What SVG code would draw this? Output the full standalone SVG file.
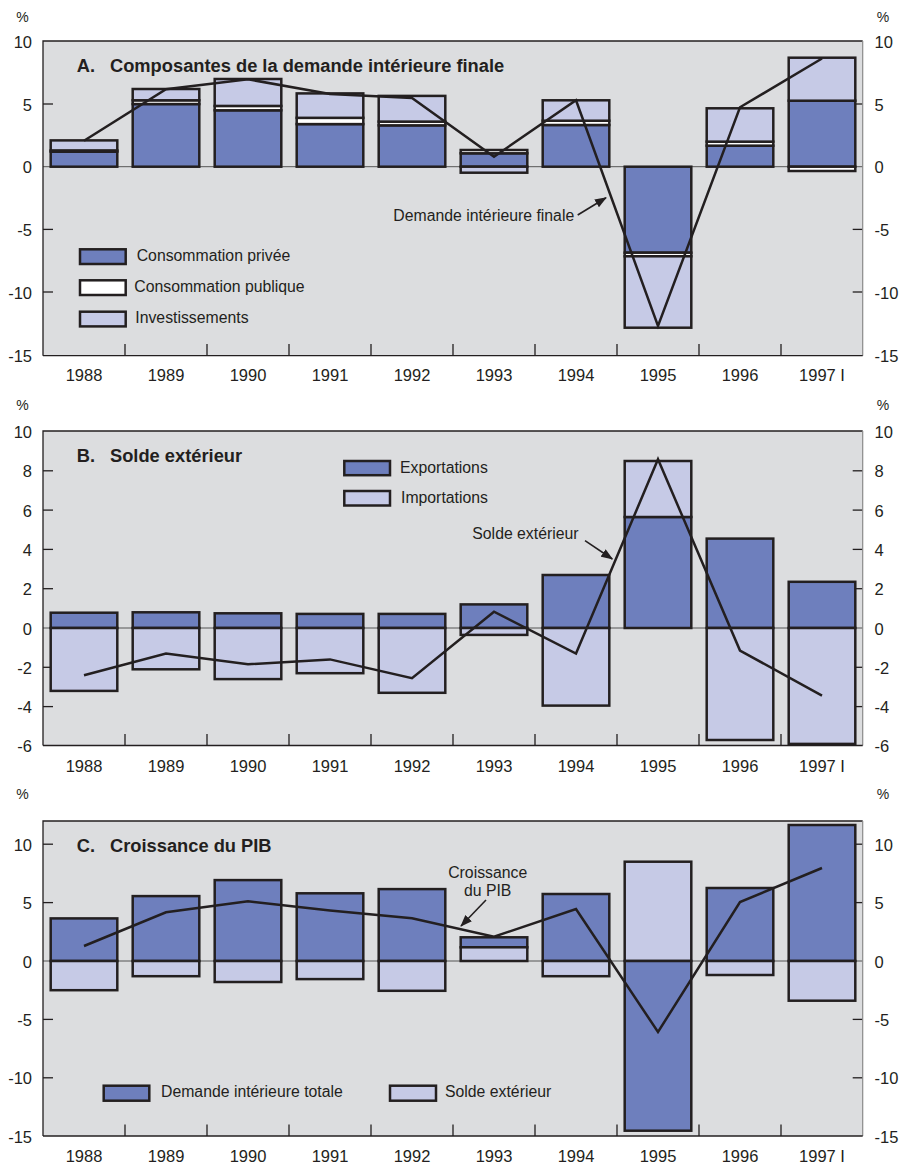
<svg xmlns="http://www.w3.org/2000/svg" width="901" height="1165" viewBox="0 0 901 1165">
<style>
text{font-family:"Liberation Sans",Arial,sans-serif;fill:#231f20}
.ax{font-size:16.5px}
.pc{font-size:14px}
.yr{font-size:16.5px;text-anchor:middle}
.tt{font-size:18.3px;font-weight:bold}
.lg{font-size:15.8px}
.bg{fill:#dcdddf;stroke:none}
.fr{fill:none;stroke:#231f20;stroke-width:1.3}
.z{stroke:#555;stroke-width:1}
.tk{stroke:#231f20;stroke-width:1.3}
.b rect{stroke:#231f20;stroke-width:2.5}
.d{fill:#6e7fbd}
.l{fill:#c6cae6}
.w{fill:#ffffff}
.ln{fill:none;stroke:#231f20;stroke-width:2.5;stroke-linejoin:miter}
.ar{stroke:#231f20;stroke-width:1.6;fill:none}
</style>
<defs>
<marker id="ah" markerUnits="userSpaceOnUse" markerWidth="12" markerHeight="9" refX="11" refY="4.5" orient="auto">
<path d="M0,0 L12,4.5 L0,9 z" fill="#231f20"/>
</marker>
</defs>

<!-- ================= PANEL A ================= -->
<g id="panelA">
<rect class="bg" x="43" y="41" width="819.7" height="314.7"/>
<line class="z" x1="43" y1="166.7" x2="862.7" y2="166.7"/>
<g class="tk">
<line x1="43" y1="104" x2="53" y2="104"/><line x1="43" y1="229.4" x2="53" y2="229.4"/><line x1="43" y1="292" x2="53" y2="292"/>
<line x1="852.7" y1="104" x2="862.7" y2="104"/><line x1="852.7" y1="229.4" x2="862.7" y2="229.4"/><line x1="852.7" y1="292" x2="862.7" y2="292"/>
<line x1="125" y1="344" x2="125" y2="355.7"/><line x1="207" y1="344" x2="207" y2="355.7"/><line x1="289" y1="344" x2="289" y2="355.7"/><line x1="371" y1="344" x2="371" y2="355.7"/><line x1="453" y1="344" x2="453" y2="355.7"/><line x1="535" y1="344" x2="535" y2="355.7"/><line x1="617" y1="344" x2="617" y2="355.7"/><line x1="699" y1="344" x2="699" y2="355.7"/><line x1="781" y1="344" x2="781" y2="355.7"/>
</g>
<g id="barsA" class="b">
<rect class="d" x="50.7" y="151.66" width="66.6" height="15.04"/><rect class="w" x="50.7" y="150.41" width="66.6" height="1.25"/><rect class="l" x="50.7" y="140.39" width="66.6" height="10.02"/>
<rect class="d" x="132.7" y="104.05" width="66.6" height="62.65"/><rect class="w" x="132.7" y="100.29" width="66.6" height="3.76"/><rect class="l" x="132.7" y="89.01" width="66.6" height="11.28"/>
<rect class="d" x="214.7" y="110.3" width="66.6" height="56.4"/><rect class="w" x="214.7" y="105.93" width="66.6" height="4.37"/><rect class="l" x="214.7" y="79" width="66.6" height="26.93"/>
<rect class="d" x="296.7" y="124.1" width="66.6" height="42.6"/><rect class="w" x="296.7" y="117.83" width="66.6" height="6.27"/><rect class="l" x="296.7" y="93.4" width="66.6" height="24.43"/>
<rect class="d" x="378.7" y="125.35" width="66.6" height="41.35"/><rect class="w" x="378.7" y="121.6" width="66.6" height="3.75"/><rect class="l" x="378.7" y="95.9" width="66.6" height="25.7"/>
<rect class="d" x="460.7" y="153.3" width="66.6" height="13.4"/><rect class="w" x="460.7" y="150" width="66.6" height="3.3"/><rect class="l" x="460.7" y="166.7" width="66.6" height="6"/>
<rect class="d" x="542.7" y="125" width="66.6" height="41.7"/><rect class="w" x="542.7" y="120.7" width="66.6" height="4.3"/><rect class="l" x="542.7" y="100.3" width="66.6" height="20.4"/>
<rect class="d" x="624.7" y="166.7" width="66.6" height="86"/><rect class="w" x="624.7" y="252.7" width="66.6" height="3.6"/><rect class="l" x="624.7" y="256.3" width="66.6" height="71.4"/>
<rect class="d" x="706.7" y="145.65" width="66.6" height="21.05"/><rect class="w" x="706.7" y="141.64" width="66.6" height="4.01"/><rect class="l" x="706.7" y="108.3" width="66.6" height="33.34"/>
<rect class="d" x="788.7" y="100.7" width="66.6" height="66"/><rect class="l" x="788.7" y="57.7" width="66.6" height="43"/><rect class="w" x="788.7" y="166.7" width="66.6" height="4.3"/>
</g>
<polyline id="lineA" class="ln" points="84,140.7 166,89.3 248,79.3 330,94 412,98 494,156.7 576,100.3 658,326 740,107.3 822,58.5"/>
<path class="fr" d="M43,355.7 V41 H862.7"/>
<line x1="862.7" y1="41" x2="862.7" y2="355.7" stroke="#8a8a8a" stroke-width="1.2"/>
<line x1="43" y1="355.7" x2="862.7" y2="355.7" stroke="#231f20" stroke-width="1.3"/>
<text class="tt" x="76.7" y="71.7">A.</text>
<text class="tt" x="110" y="71.7">Composantes de la demande intérieure finale</text>
<g id="legendA" class="b">
<rect class="d" x="80" y="249.3" width="45.7" height="14.7"/>
<rect class="w" x="80" y="280.3" width="45.7" height="14.7"/>
<rect class="l" x="80" y="311.7" width="45.7" height="14.7"/>
</g>
<text class="lg" x="136.7" y="261">Consommation privée</text>
<text class="lg" x="134.3" y="291.7">Consommation publique</text>
<text class="lg" x="135.3" y="322.7">Investissements</text>
<text class="lg" x="393.3" y="220.7">Demande intérieure finale</text>
<text class="pc" x="22.5" y="21.7" text-anchor="middle">%</text>
<text class="pc" x="883" y="21.7" text-anchor="middle">%</text>
<g class="ax" text-anchor="end">
<text x="32" y="47.7">10</text><text x="32" y="110.5">5</text><text x="32" y="173.2">0</text><text x="32" y="235.9">-5</text><text x="32" y="298.5">-10</text><text x="32" y="361.5">-15</text>
</g>
<g class="ax">
<text x="874.5" y="47.7">10</text><text x="874.5" y="110.5">5</text><text x="874.5" y="173.2">0</text><text x="874.5" y="235.9">-5</text><text x="874.5" y="298.5">-10</text><text x="874.5" y="361.5">-15</text>
</g>
<g class="yr">
<text x="84" y="381">1988</text><text x="166" y="381">1989</text><text x="248" y="381">1990</text><text x="330" y="381">1991</text><text x="412" y="381">1992</text><text x="494" y="381">1993</text><text x="576" y="381">1994</text><text x="658" y="381">1995</text><text x="740" y="381">1996</text><text x="822" y="381">1997 I</text>
</g>
</g>

<!-- ================= PANEL B ================= -->
<g id="panelB">
<rect class="bg" x="43" y="431" width="819.7" height="314.5"/>
<line class="z" x1="43" y1="628" x2="862.7" y2="628"/>
<g class="tk">
<line x1="43" y1="470.8" x2="53" y2="470.8"/><line x1="43" y1="510.1" x2="53" y2="510.1"/><line x1="43" y1="549.4" x2="53" y2="549.4"/><line x1="43" y1="588.7" x2="53" y2="588.7"/><line x1="43" y1="667.3" x2="53" y2="667.3"/><line x1="43" y1="706.6" x2="53" y2="706.6"/>
<line x1="852.7" y1="470.8" x2="862.7" y2="470.8"/><line x1="852.7" y1="510.1" x2="862.7" y2="510.1"/><line x1="852.7" y1="549.4" x2="862.7" y2="549.4"/><line x1="852.7" y1="588.7" x2="862.7" y2="588.7"/><line x1="852.7" y1="667.3" x2="862.7" y2="667.3"/><line x1="852.7" y1="706.6" x2="862.7" y2="706.6"/>
<line x1="125" y1="734" x2="125" y2="745.5"/><line x1="207" y1="734" x2="207" y2="745.5"/><line x1="289" y1="734" x2="289" y2="745.5"/><line x1="371" y1="734" x2="371" y2="745.5"/><line x1="453" y1="734" x2="453" y2="745.5"/><line x1="535" y1="734" x2="535" y2="745.5"/><line x1="617" y1="734" x2="617" y2="745.5"/><line x1="699" y1="734" x2="699" y2="745.5"/><line x1="781" y1="734" x2="781" y2="745.5"/>
</g>
<g id="barsB" class="b">
<rect class="d" x="50.7" y="612.7" width="66.6" height="15.3"/><rect class="l" x="50.7" y="628" width="66.6" height="62.9"/>
<rect class="d" x="132.7" y="612.3" width="66.6" height="15.7"/><rect class="l" x="132.7" y="628" width="66.6" height="41.3"/>
<rect class="d" x="214.7" y="613.3" width="66.6" height="14.7"/><rect class="l" x="214.7" y="628" width="66.6" height="51.1"/>
<rect class="d" x="296.7" y="613.9" width="66.6" height="14.1"/><rect class="l" x="296.7" y="628" width="66.6" height="45.2"/>
<rect class="d" x="378.7" y="613.9" width="66.6" height="14.1"/><rect class="l" x="378.7" y="628" width="66.6" height="64.8"/>
<rect class="d" x="460.7" y="604.4" width="66.6" height="23.6"/><rect class="l" x="460.7" y="628" width="66.6" height="6.9"/>
<rect class="d" x="542.7" y="575" width="66.6" height="53"/><rect class="l" x="542.7" y="628" width="66.6" height="77.6"/>
<rect class="d" x="624.7" y="517" width="66.6" height="111"/><rect class="l" x="624.7" y="461" width="66.6" height="56"/>
<rect class="d" x="706.7" y="538.6" width="66.6" height="89.4"/><rect class="l" x="706.7" y="628" width="66.6" height="112"/>
<rect class="d" x="788.7" y="581.8" width="66.6" height="46.2"/><rect class="l" x="788.7" y="628" width="66.6" height="115.9"/>
</g>
<polyline id="lineB" class="ln" points="84,675.2 166,653.5 248,664.3 330,659.4 412,678.1 494,611.7 576,653.5 658,459.3 740,650.5 822,695.7"/>
<path class="fr" d="M43,745.5 V431 H862.7"/>
<line x1="862.7" y1="431" x2="862.7" y2="745.5" stroke="#8a8a8a" stroke-width="1.2"/>
<line x1="43" y1="745.5" x2="862.7" y2="745.5" stroke="#231f20" stroke-width="1.3"/>
<text class="tt" x="76.7" y="462.3">B.</text>
<text class="tt" x="110" y="462.3">Solde extérieur</text>
<g id="legendB" class="b">
<rect class="d" x="344.3" y="461" width="45.7" height="14.2"/>
<rect class="l" x="344.3" y="491" width="45.7" height="14.5"/>
</g>
<text class="lg" x="400" y="472.7">Exportations</text>
<text class="lg" x="401" y="503.3">Importations</text>
<text class="lg" x="472.3" y="539">Solde extérieur</text>
<text class="pc" x="22.5" y="410" text-anchor="middle">%</text>
<text class="pc" x="883" y="410" text-anchor="middle">%</text>
<g class="ax" text-anchor="end">
<text x="32" y="437.5">10</text><text x="32" y="477.3">8</text><text x="32" y="516.6">6</text><text x="32" y="555.9">4</text><text x="32" y="595.2">2</text><text x="32" y="634.5">0</text><text x="32" y="673.8">-2</text><text x="32" y="713.1">-4</text><text x="32" y="752">-6</text>
</g>
<g class="ax">
<text x="874.5" y="437.5">10</text><text x="874.5" y="477.3">8</text><text x="874.5" y="516.6">6</text><text x="874.5" y="555.9">4</text><text x="874.5" y="595.2">2</text><text x="874.5" y="634.5">0</text><text x="874.5" y="673.8">-2</text><text x="874.5" y="713.1">-4</text><text x="874.5" y="752">-6</text>
</g>
<g class="yr">
<text x="84" y="772">1988</text><text x="166" y="772">1989</text><text x="248" y="772">1990</text><text x="330" y="772">1991</text><text x="412" y="772">1992</text><text x="494" y="772">1993</text><text x="576" y="772">1994</text><text x="658" y="772">1995</text><text x="740" y="772">1996</text><text x="822" y="772">1997 I</text>
</g>
</g>

<!-- ================= PANEL C ================= -->
<g id="panelC">
<rect class="bg" x="43" y="821" width="819.7" height="315"/>
<line class="z" x1="43" y1="961" x2="862.7" y2="961"/>
<g class="tk">
<line x1="43" y1="844.2" x2="53" y2="844.2"/><line x1="43" y1="902.6" x2="53" y2="902.6"/><line x1="43" y1="1019.4" x2="53" y2="1019.4"/><line x1="43" y1="1077.8" x2="53" y2="1077.8"/>
<line x1="852.7" y1="844.2" x2="862.7" y2="844.2"/><line x1="852.7" y1="902.6" x2="862.7" y2="902.6"/><line x1="852.7" y1="1019.4" x2="862.7" y2="1019.4"/><line x1="852.7" y1="1077.8" x2="862.7" y2="1077.8"/>
<line x1="125" y1="1124.5" x2="125" y2="1136"/><line x1="207" y1="1124.5" x2="207" y2="1136"/><line x1="289" y1="1124.5" x2="289" y2="1136"/><line x1="371" y1="1124.5" x2="371" y2="1136"/><line x1="453" y1="1124.5" x2="453" y2="1136"/><line x1="535" y1="1124.5" x2="535" y2="1136"/><line x1="617" y1="1124.5" x2="617" y2="1136"/><line x1="699" y1="1124.5" x2="699" y2="1136"/><line x1="781" y1="1124.5" x2="781" y2="1136"/>
</g>
<g id="barsC" class="b">
<rect class="d" x="50.7" y="918.4" width="66.6" height="42.6"/><rect class="l" x="50.7" y="961" width="66.6" height="29.2"/>
<rect class="d" x="132.7" y="896.1" width="66.6" height="64.9"/><rect class="l" x="132.7" y="961" width="66.6" height="15.2"/>
<rect class="d" x="214.7" y="880.1" width="66.6" height="80.9"/><rect class="l" x="214.7" y="961" width="66.6" height="21"/>
<rect class="d" x="296.7" y="893.3" width="66.6" height="67.7"/><rect class="l" x="296.7" y="961" width="66.6" height="18.1"/>
<rect class="d" x="378.7" y="889.1" width="66.6" height="71.9"/><rect class="l" x="378.7" y="961" width="66.6" height="29.8"/>
<rect class="d" x="460.7" y="937.3" width="66.6" height="10"/><rect class="l" x="460.7" y="947.3" width="66.6" height="13.7"/>
<rect class="d" x="542.7" y="894" width="66.6" height="67"/><rect class="l" x="542.7" y="961" width="66.6" height="15.2"/>
<rect class="l" x="624.7" y="861.7" width="66.6" height="99.3"/><rect class="d" x="624.7" y="961" width="66.6" height="169.7"/>
<rect class="d" x="706.7" y="888" width="66.6" height="73"/><rect class="l" x="706.7" y="961" width="66.6" height="14"/>
<rect class="d" x="788.7" y="825" width="66.6" height="136"/><rect class="l" x="788.7" y="961" width="66.6" height="39.7"/>
</g>
<polyline id="lineC" class="ln" points="84,946 166,912.3 248,901.3 330,910.5 412,918.3 494,936.7 576,909 658,1032 740,902 822,868"/>
<path class="fr" d="M43,1136 V821 H862.7"/>
<line x1="862.7" y1="821" x2="862.7" y2="1136" stroke="#8a8a8a" stroke-width="1.2"/>
<line x1="43" y1="1136" x2="862.7" y2="1136" stroke="#231f20" stroke-width="1.3"/>
<text class="tt" x="76.7" y="852.3">C.</text>
<text class="tt" x="110" y="852.3">Croissance du PIB</text>
<g id="legendC" class="b">
<rect class="d" x="103.7" y="1085.7" width="45.6" height="15"/>
<rect class="l" x="390" y="1085.7" width="46" height="15"/>
</g>
<text class="lg" x="161" y="1096.7">Demande intérieure totale</text>
<text class="lg" x="445" y="1096.7">Solde extérieur</text>
<text class="lg" x="487.7" y="878.3" text-anchor="middle">Croissance</text>
<text class="lg" x="487.7" y="896" text-anchor="middle">du PIB</text>
<text class="pc" x="22.5" y="799.3" text-anchor="middle">%</text>
<text class="pc" x="883" y="799.3" text-anchor="middle">%</text>
<g class="ax" text-anchor="end">
<text x="32" y="850.7">10</text><text x="32" y="909.1">5</text><text x="32" y="967.5">0</text><text x="32" y="1025.9">-5</text><text x="32" y="1084.3">-10</text><text x="32" y="1142.5">-15</text>
</g>
<g class="ax">
<text x="874.5" y="850.7">10</text><text x="874.5" y="909.1">5</text><text x="874.5" y="967.5">0</text><text x="874.5" y="1025.9">-5</text><text x="874.5" y="1084.3">-10</text><text x="874.5" y="1142.5">-15</text>
</g>
<g class="yr">
<text x="84" y="1161.5">1988</text><text x="166" y="1161.5">1989</text><text x="248" y="1161.5">1990</text><text x="330" y="1161.5">1991</text><text x="412" y="1161.5">1992</text><text x="494" y="1161.5">1993</text><text x="576" y="1161.5">1994</text><text x="658" y="1161.5">1995</text><text x="740" y="1161.5">1996</text><text x="822" y="1161.5">1997 I</text>
</g>
</g>

<!-- ================= CONNECTORS (annotation arrows) ================= -->
<g id="connectors">
<line class="ar" x1="577.7" y1="215" x2="606" y2="197.7" marker-end="url(#ah)"/>
<line class="ar" x1="585" y1="540.7" x2="612.3" y2="559" marker-end="url(#ah)"/>
<line class="ar" x1="486" y1="900" x2="461" y2="926" marker-end="url(#ah)"/>
</g>
</svg>
